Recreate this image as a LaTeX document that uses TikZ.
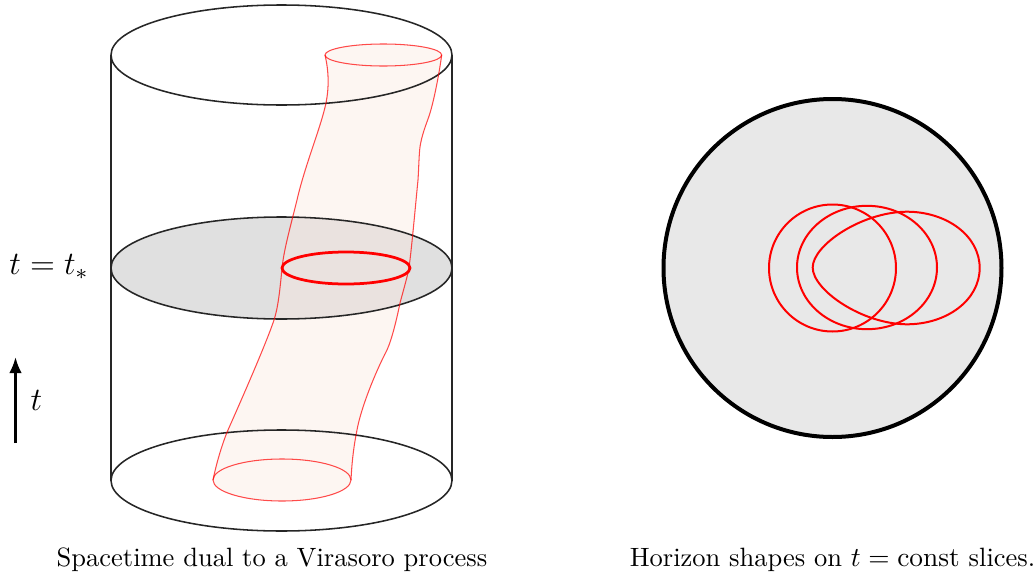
\documentclass[tikz,border=0pt]{standalone}
\usetikzlibrary{arrows.meta}
\definecolor{tubefill}{HTML}{FBE7DE}
\newcommand{\tubeleft}{.. controls (329,72) and (329,88) .. (326,103) .. controls (321,127) and (305,165) .. (297,200) .. controls (289,232) and (284,250) .. (282,268) .. controls (280,290) and (278,308) .. (274,320) .. controls (266,344) and (240,403) .. (228,430) .. controls (222,444) and (216,465) .. (213,480)}
\newcommand{\tuberight}{.. controls (352,460) and (354,445) .. (357,430) .. controls (361,408) and (375,373) .. (387,350) .. controls (392,339) and (397,318) .. (400,303) .. controls (404,288) and (407,278) .. (409,268) .. controls (412,245) and (416,200) .. (418,180) .. controls (419,165) and (419,150) .. (420.7,143) .. controls (423,131) and (428,120) .. (430,113) .. controls (434,100) and (439,75) .. (441.7,55)}
\tikzset{
  cyl/.style={black!85,line width=0.62pt},
  tubeline/.style={red,opacity=0.7,line width=0.42pt},
  horizon/.style={red,line width=0.8pt},
  biglabel/.style={font=\large,scale=1.09},
  caption/.style={font=\fontsize{10.6}{13}\selectfont}
}
\begin{document}
\begin{tikzpicture}[x=0.4pt,y=-0.4pt]
  \useasboundingbox (0,0) rectangle (1035,574);
  % left picture
  \fill[black!12] (281.5,268) ellipse [x radius=170.5,y radius=51];
  \fill[tubefill,opacity=0.38] (325,55) \tubeleft arc [start angle=180,end angle=0,x radius=69,y radius=21] \tuberight arc [start angle=0,end angle=-180,x radius=58.35,y radius=11] -- cycle;
  \foreach \y/\r in {55/50,268/51,480.5/50.5}{\draw[cyl] (281.5,\y) ellipse [x radius=170.5,y radius=\r];}
  \draw[cyl] (111,55) -- (111,480.5);
  \draw[cyl] (452,55) -- (452,480.5);
  \draw[tubeline] (325,55) \tubeleft;
  \draw[tubeline] (351,480) \tuberight;
  \draw[tubeline] (383.35,55) ellipse [x radius=58.35,y radius=11];
  \draw[tubeline] (282,480) ellipse [x radius=69,y radius=21];
  \draw[red,line width=1.1pt] (346,268) ellipse [x radius=64,y radius=16];
  \node[biglabel] (slicelabel) at (49,267) {$t=t_*$};
  \coordinate (arrowbottom) at (15.5,443);
  \coordinate (arrowtop) at (15.5,357);
  \draw[-{Latex[length=6.4pt,width=5pt]},line width=1pt] (arrowbottom) -- (arrowtop);
  \node[biglabel] (timelabel) at (36.5,400.5) {$t$};
  \node[caption] (leftcaption) at (272,560) {Spacetime dual to a Virasoro process};
  % right picture
  \draw[fill=black!9,line width=1.6pt] (832.5,268) circle [radius=169];
  \draw[horizon] (832.5,268) circle [radius=63.5];
  \draw[horizon] (867,267.5) ellipse [x radius=70,y radius=61.7];
  \draw[horizon] (812.7,267.5) .. controls (812.7,245) and (862,212) .. (906.7,211.7) .. controls (947,211.7) and (979.7,236) .. (979.7,268) .. controls (979.7,300) and (947,324.3) .. (906.7,324.3) .. controls (862,324) and (812.7,290) .. cycle;
  \node[caption] (rightcaption) at (832.5,560) {Horizon shapes on $t=\mathrm{const}$ slices.};
\end{tikzpicture}
\end{document}
